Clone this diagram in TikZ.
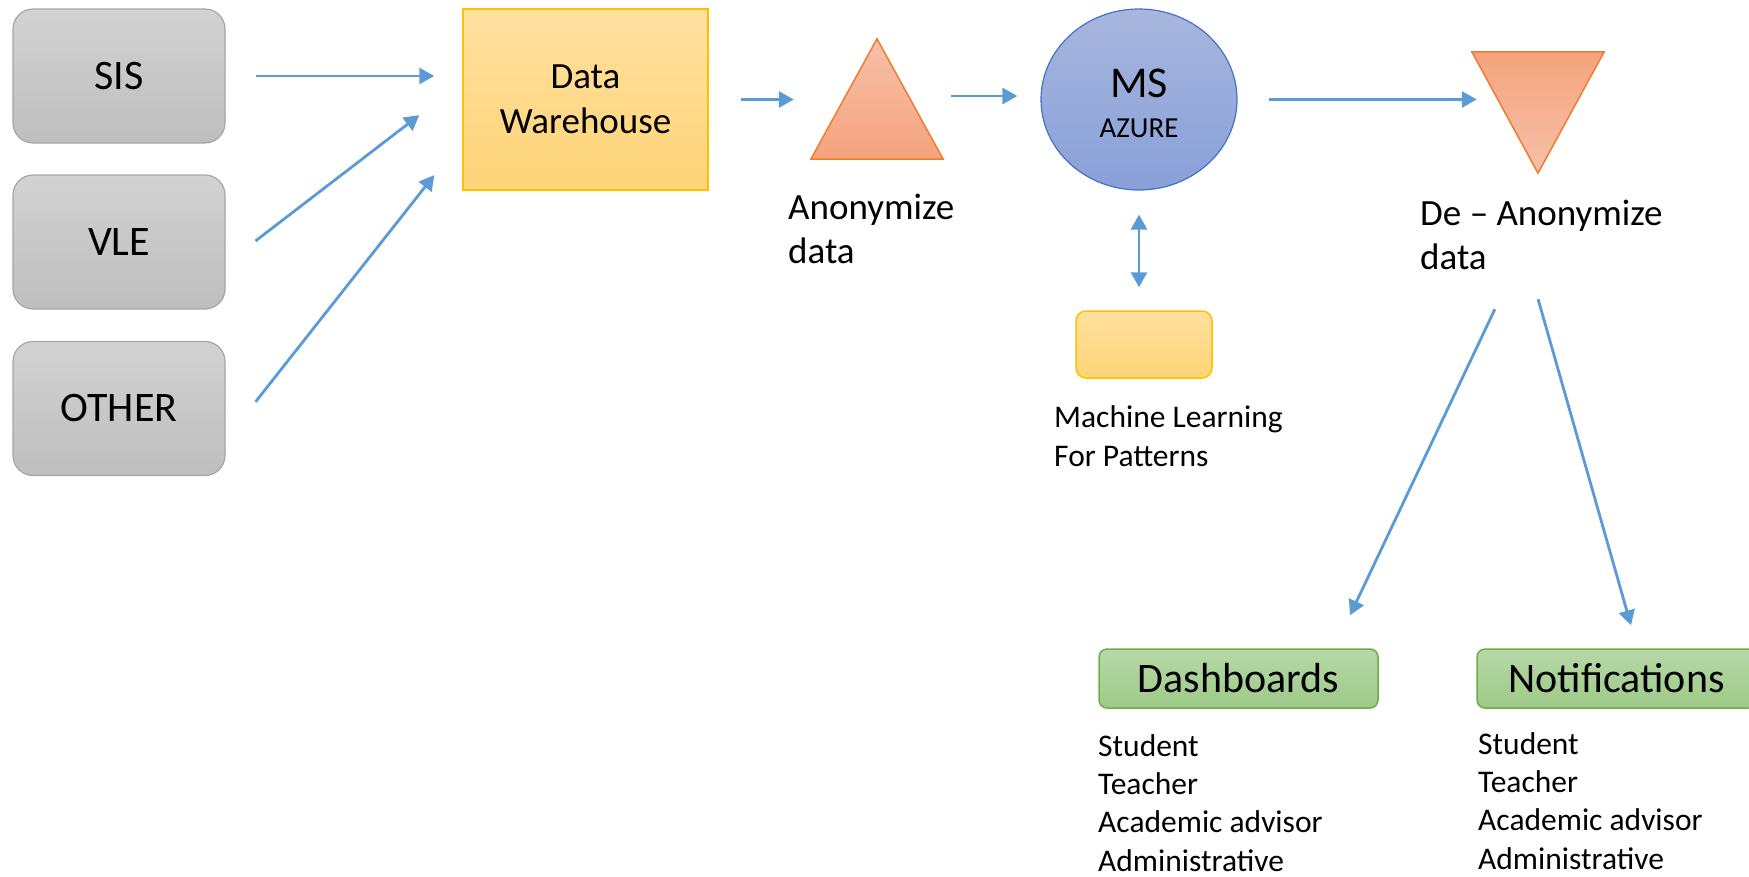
\documentclass[tikz,border=0pt]{standalone}
\usepackage{fontspec}
\setmainfont{Carlito}
\usetikzlibrary{shapes.geometric, arrows.meta}

\definecolor{srctop}{RGB}{210,210,210}
\definecolor{srcbot}{RGB}{190,190,190}
\definecolor{srcline}{RGB}{166,166,166}
\definecolor{goldtop}{RGB}{255,224,158}
\definecolor{goldbot}{RGB}{255,212,120}
\definecolor{goldline}{RGB}{255,192,0}
\definecolor{peachlight}{RGB}{247,192,168}
\definecolor{peachdark}{RGB}{244,163,125}
\definecolor{peachline}{RGB}{237,125,49}
\definecolor{azuretop}{RGB}{168,182,222}
\definecolor{azurebot}{RGB}{136,160,216}
\definecolor{azureline}{RGB}{68,114,196}
\definecolor{greentop}{RGB}{182,216,167}
\definecolor{greenbot}{RGB}{158,202,136}
\definecolor{greenline}{RGB}{112,173,71}
\definecolor{flow}{RGB}{91,155,213}

\begin{document}
\begin{tikzpicture}[x=1pt,y=-1pt]

\tikzset{source/.style = {shape=rectangle, rounded corners=20pt, draw=srcline, line width=1.2pt, top color=srctop, bottom color=srcbot, minimum width=212pt, minimum height=134pt, font=\fontsize{42}{50}\selectfont}}
\tikzset{store/.style = {shape=rectangle, draw=goldline, line width=1.5pt, top color=goldtop, bottom color=goldbot, inner sep=0pt}}
\tikzset{target/.style = {shape=rectangle, rounded corners=8pt, draw=greenline, line width=1.5pt, top color=greentop, bottom color=greenbot, minimum width=279pt, minimum height=59pt, font=\fontsize{42}{50}\selectfont}}
\tikzset{box/.style = {shape=rectangle, inner sep=0pt, minimum width=132pt}}
\tikzset{txt/.style = {inner sep=0pt, align=left, font=\fontsize{37}{44}\selectfont}}
\tikzset{small/.style = {inner sep=0pt, align=left, font=\fontsize{31.5}{38.3}\selectfont}}
\tikzset{edge/.style = {->, > = {Triangle[length=15pt, width=16pt]}, draw=flow, line width=2.8pt}}

\useasboundingbox (0,0) rectangle (1749,876);

%sources
\node[source] (sis) at (119,76) {SIS};
\node[source] (vle) at (119,242) {VLE};
\node[source] (other) at (119,408.5) {OTHER};
%warehouse
\node[store, minimum width=245pt, minimum height=181pt, align=center, font=\fontsize{37}{45}\selectfont] (dw) at (585.5,99.5) {Data\\Warehouse};
%anonymize
\node[box, minimum height=120pt] (anon) at (877,99) {};
\path[draw=peachline, line width=1.5pt, top color=peachlight, bottom color=peachdark] (anon.north) -- (anon.south east) -- (anon.south west) -- cycle;
\node[txt, anchor=base west] (anontext) at (788,263) {Anonymize\\data};
%azure
\node[ellipse, draw=azureline, line width=1.2pt, top color=azuretop, bottom color=azurebot, minimum width=196pt, minimum height=181pt, inner sep=0pt] (ms) at (1139,99.5) {};
\node[anchor=base, inner sep=0pt, font=\fontsize{44}{50}\selectfont] (mstext) at (1139,97) {MS};
\node[anchor=base, inner sep=0pt, font=\fontsize{29}{34}\selectfont] (azuretext) at (1139,137) {AZURE};
%machine learning
\node[store, rounded corners=10pt, minimum width=136pt, minimum height=67pt] (ml) at (1144,344.5) {};
\node[small, anchor=base west] (mltext) at (1054,466) {Machine Learning\\For Patterns};
%de-anonymize
\node[box, minimum height=121pt] (deanon) at (1538,112.5) {};
\path[draw=peachline, line width=1.5pt, top color=peachdark, bottom color=peachlight] (deanon.north west) -- (deanon.north east) -- (deanon.south) -- cycle;
\node[txt, anchor=base west] (deanontext) at (1420,269) {De – Anonymize\\data};
%outputs
\node[target] (dash) at (1238.5,678.5) {Dashboards};
\node[target] (notif) at (1616.5,678.5) {Notifications};
\node[small, anchor=base west] (dashlist) at (1098,871) {Student\\Teacher\\Academic advisor\\Administrative};
\node[small, anchor=base west] (notiflist) at (1478,869) {Student\\Teacher\\Academic advisor\\Administrative};

%edges
\draw[edge, shorten <=30pt, shorten >=28pt] (sis.east) -- (sis.east -| dw.west);
\draw[edge, shorten <=37.7pt, shorten >=54.1pt] ([yshift=-21.9pt]vle.east) -- ([yshift=17.3pt]dw.west);
\draw[edge, shorten <=48.3pt, shorten >=45.1pt] ([yshift=-31.3pt]other.east) -- ([yshift=-40.2pt]dw.west);
\draw[edge, shorten <=32pt, shorten >=17pt] (dw.east) -- (dw.east -| anon.west);
\draw[edge, shorten <=8pt, shorten >=23pt] ([yshift=3pt]anon.east) -- ([yshift=3pt]anon.east -| ms.west);
\draw[edge, shorten <=31pt, shorten >=-5pt] (ms.east) -- (ms.east -| deanon.west);
\draw[edge, <->, shorten <=24pt, shorten >=23pt] (ms.south) -- (ms.south |- ml.north);
\draw[edge, shorten <=150.4pt, shorten >=36.5pt] ([xshift=21.2pt]deanon.south) -- ([xshift=95.9pt]dash.north);
\draw[edge, shorten <=131pt, shorten >=23.9pt] ([xshift=-35.8pt]deanon.south) -- ([xshift=21pt]notif.north);

\end{tikzpicture}
\end{document}
